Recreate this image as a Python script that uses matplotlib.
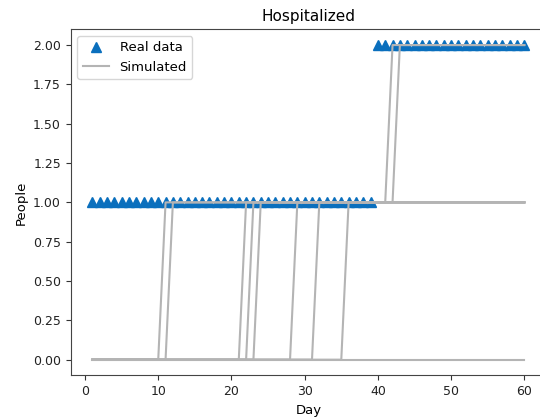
import numpy as np
import matplotlib
matplotlib.use("Agg")
import matplotlib.pyplot as plt

# observed data
days = list(range(1, 61))
real_values = [1] * 39 + [2] * 21

# simulated runs: day of last 0 before jumping to 1, and to 2 (None = never)
sim_jump_to_1 = [10, 11, 21, 22, 23, 28, 31, 35, None]
sim_jump_to_2 = [41, 42, None, None, None, None, None, None, None]

blue = "#0a6fbd"
grey = "#b4b4b4"


def step_series(d1, d2):
    x = np.array(days)
    y = np.zeros(len(x))
    if d1 is not None:
        y[x > d1] = 1
    if d2 is not None:
        y[x > d2] = 2
    return y


fig = plt.figure(figsize=(5.4, 4.19), dpi=100)
ax = fig.add_axes([0.131, 0.104, 0.88, 0.826])

ax.plot(days, real_values, "^", color=blue, markersize=7, label="Real data", zorder=2)
for k, (d1, d2) in enumerate(zip(sim_jump_to_1, sim_jump_to_2)):
    ax.plot(days, step_series(d1, d2), color=grey, lw=1.5, zorder=3,
            label="Simulated" if k == 0 else None)

ax.set_xlim(-1.95, 62.95)
ax.set_ylim(-0.1, 2.1)
ax.set_yticks(np.arange(0, 2.01, 0.25))
ax.yaxis.set_major_formatter(matplotlib.ticker.FormatStrFormatter("%.2f"))
ax.tick_params(labelsize=9, colors="#333333", labelcolor="#222222")
for s in ax.spines.values():
    s.set_color("#444444")
ax.spines["right"].set_visible(False)

ax.set_title("Hospitalized", fontsize=11)
ax.set_xlabel("Day", fontsize=9.5)
ax.set_ylabel("People", fontsize=9.5)
ax.legend(loc="upper left", fontsize=9.5)

fig.savefig("out.png", dpi=100)
